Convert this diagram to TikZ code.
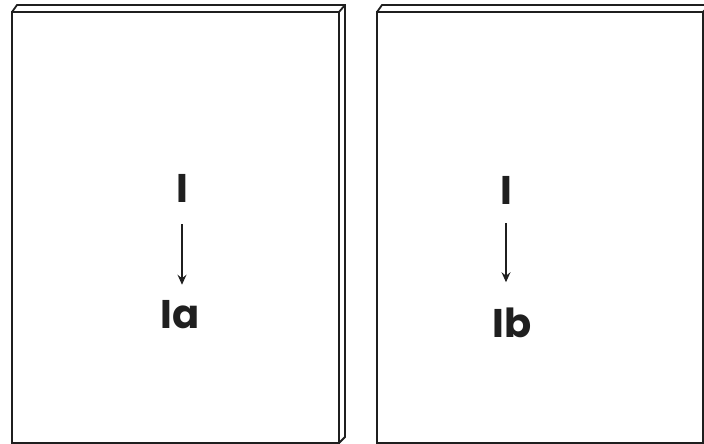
\documentclass[tikz,border=0pt]{standalone}
\usepackage{fontspec}
\setmainfont{Poppins}
\usetikzlibrary{arrows.meta}

\tikzset{
  panel/.style={draw=black!88, line width=1.8pt, line join=miter},
  lbl/.style={font=\fontsize{40}{46}\selectfont\bfseries, text=black!88, inner sep=0pt, anchor=base},
  arr/.style={draw=black!88, line width=1.1pt, -{Stealth[length=10pt,width=9pt,inset=3.5pt]}}
}

\begin{document}
\begin{tikzpicture}[x=1pt,y=-1pt]
\useasboundingbox (0,0) rectangle (704,444);
% left panel
\draw[panel] (12,12) rectangle (339,443);
\draw[panel] (12,12) -- (17,5) -- (345,5) -- (345,437) -- (339,443);
\draw[panel] (339,12) -- (345,5);
% right panel
\draw[panel] (377,12) rectangle (703,443);
\draw[panel] (377,12) -- (382,5) -- (710,5);
\draw[panel] (703,12) -- (710,5);
% labels
\node[lbl] (i1) at (182,202) {I};
\node[lbl] (ia) at (180,328) {Ia};
\node[lbl] (i2) at (506,204) {I};
\node[lbl] (ib) at (512,337) {Ib};
\draw[arr, shorten <=22pt, shorten >=15pt] (i1.south) -- (i1.south |- ia.north);
\draw[arr, shorten <=19pt, shorten >=25pt] (i2.south) -- (i2.south |- ib.north);
\end{tikzpicture}
\end{document}
